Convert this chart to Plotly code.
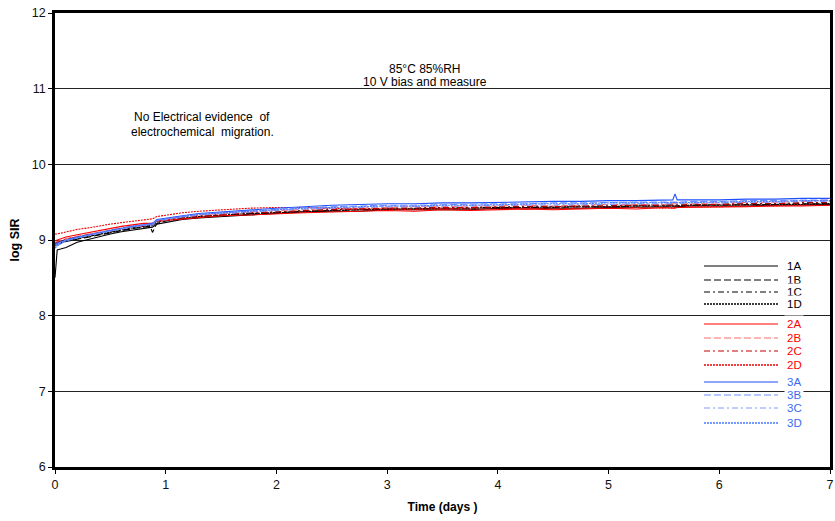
import plotly.graph_objects as go

# ---------------- data ----------------
time_days = [0, 0.02, 0.05, 0.1, 0.2, 0.3, 0.4, 0.5, 0.6, 0.7, 0.8, 0.86, 0.88, 0.92, 1.0,
             1.15, 1.3, 1.5, 1.75, 2.0, 2.25, 2.5, 2.75, 3.0, 3.25, 3.5, 3.75, 4.0, 4.25, 4.5,
             4.75, 5.0, 5.25, 5.5, 5.58, 5.6, 5.62, 5.75, 6.0, 6.25, 6.5, 6.75, 7.0]

s1A = [8.50, 8.87, 8.88, 8.90, 8.97, 9.01, 9.05, 9.08, 9.11, 9.13, 9.15, 9.16, 9.17, 9.21, 9.23,
       9.27, 9.29, 9.31, 9.33, 9.35, 9.37, 9.38, 9.38, 9.40, 9.40, 9.41, 9.40, 9.42, 9.41, 9.42,
       9.42, 9.43, 9.43, 9.44, 9.43, 9.44, 9.44, 9.45, 9.45, 9.45, 9.46, 9.46, 9.47]
s1B = [8.93, 8.94, 8.96, 8.98, 9.01, 9.04, 9.07, 9.10, 9.13, 9.15, 9.17, 9.18, 9.10, 9.22, 9.25,
       9.28, 9.30, 9.32, 9.34, 9.36, 9.38, 9.39, 9.40, 9.41, 9.41, 9.42, 9.42, 9.43, 9.43, 9.43,
       9.44, 9.44, 9.45, 9.45, 9.45, 9.45, 9.45, 9.46, 9.46, 9.47, 9.47, 9.48, 9.48]
s1C = [8.94, 8.95, 8.97, 8.99, 9.02, 9.05, 9.08, 9.11, 9.14, 9.16, 9.18, 9.19, 9.19, 9.24, 9.26,
       9.29, 9.31, 9.33, 9.35, 9.37, 9.39, 9.40, 9.41, 9.42, 9.42, 9.43, 9.43, 9.44, 9.44, 9.44,
       9.45, 9.45, 9.46, 9.46, 9.46, 9.46, 9.46, 9.47, 9.47, 9.48, 9.48, 9.49, 9.49]
s1D = [8.92, 8.94, 8.96, 8.99, 9.02, 9.05, 9.08, 9.11, 9.14, 9.16, 9.18, 9.19, 9.20, 9.24, 9.26,
       9.29, 9.31, 9.33, 9.35, 9.36, 9.38, 9.39, 9.40, 9.41, 9.41, 9.42, 9.42, 9.43, 9.43, 9.44,
       9.44, 9.44, 9.45, 9.45, 9.45, 9.45, 9.45, 9.46, 9.46, 9.46, 9.47, 9.47, 9.48]
s2A = [8.99, 9.00, 9.02, 9.04, 9.07, 9.10, 9.13, 9.15, 9.18, 9.20, 9.22, 9.22, 9.22, 9.25, 9.26,
       9.28, 9.30, 9.32, 9.33, 9.35, 9.36, 9.37, 9.38, 9.39, 9.38, 9.40, 9.39, 9.40, 9.41, 9.40,
       9.41, 9.42, 9.41, 9.43, 9.42, 9.42, 9.43, 9.43, 9.44, 9.44, 9.45, 9.45, 9.46]
s2B = [8.97, 8.98, 9.00, 9.02, 9.05, 9.08, 9.11, 9.14, 9.16, 9.18, 9.20, 9.21, 9.21, 9.26, 9.28,
       9.31, 9.33, 9.35, 9.37, 9.39, 9.40, 9.42, 9.42, 9.43, 9.44, 9.44, 9.45, 9.45, 9.46, 9.45,
       9.46, 9.47, 9.47, 9.47, 9.48, 9.48, 9.48, 9.48, 9.49, 9.49, 9.50, 9.51, 9.53]
s2C = [8.96, 8.97, 8.99, 9.01, 9.04, 9.07, 9.10, 9.13, 9.15, 9.17, 9.19, 9.20, 9.20, 9.25, 9.27,
       9.30, 9.32, 9.34, 9.36, 9.37, 9.39, 9.40, 9.41, 9.42, 9.42, 9.43, 9.43, 9.44, 9.44, 9.44,
       9.45, 9.45, 9.46, 9.46, 9.46, 9.46, 9.46, 9.47, 9.47, 9.48, 9.48, 9.49, 9.50]
s2D = [9.08, 9.08, 9.09, 9.11, 9.14, 9.16, 9.19, 9.21, 9.23, 9.25, 9.27, 9.28, 9.28, 9.31, 9.33,
       9.36, 9.38, 9.40, 9.42, 9.43, 9.43, 9.42, 9.41, 9.41, 9.40, 9.42, 9.41, 9.41, 9.42, 9.41,
       9.42, 9.42, 9.43, 9.42, 9.43, 9.43, 9.43, 9.44, 9.44, 9.45, 9.45, 9.46, 9.46]
s3A = [8.95, 8.96, 8.98, 9.00, 9.04, 9.07, 9.10, 9.13, 9.16, 9.18, 9.20, 9.21, 9.22, 9.27, 9.29,
       9.32, 9.35, 9.37, 9.40, 9.42, 9.44, 9.46, 9.47, 9.48, 9.48, 9.49, 9.49, 9.50, 9.50, 9.51,
       9.51, 9.52, 9.52, 9.52, 9.53, 9.61, 9.53, 9.53, 9.53, 9.54, 9.54, 9.55, 9.55]
s3B = [8.93, 8.95, 8.97, 9.00, 9.03, 9.07, 9.10, 9.13, 9.15, 9.18, 9.20, 9.21, 9.21, 9.26, 9.28,
       9.31, 9.34, 9.36, 9.39, 9.41, 9.43, 9.44, 9.45, 9.46, 9.46, 9.47, 9.47, 9.48, 9.48, 9.49,
       9.49, 9.50, 9.50, 9.50, 9.50, 9.50, 9.50, 9.51, 9.51, 9.52, 9.52, 9.53, 9.53]
s3C = [8.91, 8.93, 8.96, 8.99, 9.03, 9.06, 9.09, 9.12, 9.15, 9.17, 9.19, 9.20, 9.20, 9.25, 9.27,
       9.30, 9.33, 9.35, 9.37, 9.39, 9.41, 9.42, 9.43, 9.44, 9.44, 9.45, 9.45, 9.46, 9.46, 9.46,
       9.47, 9.47, 9.48, 9.48, 9.48, 9.48, 9.48, 9.49, 9.49, 9.50, 9.50, 9.51, 9.51]
s3D = [8.89, 8.92, 8.95, 8.99, 9.03, 9.07, 9.10, 9.13, 9.16, 9.18, 9.20, 9.21, 9.21, 9.26, 9.28,
       9.31, 9.34, 9.36, 9.38, 9.40, 9.42, 9.43, 9.44, 9.45, 9.45, 9.46, 9.46, 9.47, 9.47, 9.48,
       9.48, 9.49, 9.49, 9.49, 9.49, 9.49, 9.49, 9.50, 9.50, 9.51, 9.51, 9.52, 9.52]

series_names = ["1A", "1B", "1C", "1D", "2A", "2B", "2C", "2D", "3A", "3B", "3C", "3D"]
series_values = [s1A, s1B, s1C, s1D, s2A, s2B, s2C, s2D, s3A, s3B, s3C, s3D]

x_ticks = [0, 1, 2, 3, 4, 5, 6, 7]
y_ticks = [6, 7, 8, 9, 10, 11, 12]

# ---------------- styles ----------------
line_colors = ["#000000", "#000000", "#000000", "#000000",
               "#ff0000", "#ff6a6a", "#c00000", "#ee0000",
               "#1f4fff", "#6b8fff", "#7f9cff", "#4a78ff"]
text_colors = ["#000000"] * 4 + ["#ff0000"] * 4 + ["#3a6cf0"] * 4
dashes = ["solid", "7px,3px", "6px,3px,2px,3px", "2px,1px"] * 3
leg_widths = [1.2, 1.0, 1.0, 1.6] * 3

FONT = "Arial, Liberation Sans, sans-serif"
W, H = 835, 521
ML, MR, MT, MB = 55, 5, 13, 54
PW, PH = W - ML - MR, H - MT - MB

fig = go.Figure()
for name, vals, col, dsh in zip(series_names, series_values, line_colors, dashes):
    fig.add_trace(go.Scatter(x=time_days, y=vals, mode="lines", name=name,
                             line=dict(color=col, width=1.1, dash=dsh),
                             showlegend=False, hoverinfo="x+y+name"))

# ---------------- hand-built legend (compact, like the original) ----------------
leg_px_y = [266, 280, 292, 304, 324, 338, 351, 365, 382, 395, 408, 423]
lx0, lx1, ltx = 704, 778, 784
shapes = []
annotations = []
for name, py, col, tcol, dsh, lw in zip(series_names, leg_px_y, line_colors,
                                         text_colors, dashes, leg_widths):
    yp = (H - MB - py) / PH
    shapes.append(dict(type="line", xref="paper", yref="paper",
                       x0=(lx0 - ML) / PW, x1=(lx1 - ML) / PW, y0=yp, y1=yp,
                       line=dict(color=col, width=lw, dash=dsh)))
    annotations.append(dict(xref="paper", yref="paper", x=(ltx - ML) / PW, y=yp,
                            xanchor="left", yanchor="middle", text=name, showarrow=False,
                            bgcolor="white", borderpad=2,
                            font=dict(family=FONT, size=11.5, color=tcol)))

note_font = dict(family=FONT, size=12, color="#000")
annotations += [
    dict(xref="x", yref="y", x=3.34, y=11.26, showarrow=False, text="85°C 85%RH", font=note_font),
    dict(xref="x", yref="y", x=3.34, y=11.09, showarrow=False, text="10 V bias and measure",
         font=note_font),
    dict(xref="x", yref="y", x=1.33, y=10.63, showarrow=False,
         text="No Electrical evidence&nbsp; of", font=note_font),
    dict(xref="x", yref="y", x=1.33, y=10.43, showarrow=False,
         text="electrochemical&nbsp; migration.", font=note_font),
]

axis_common = dict(showline=True, linecolor="#000", linewidth=2.5, mirror=True,
                   zeroline=False, ticks="outside", ticklen=4, tickcolor="#000", tickwidth=1,
                   tickfont=dict(family=FONT, size=12.5, color="#111"))

fig.update_layout(
    width=W, height=H,
    margin=dict(l=ML, r=MR, t=MT, b=MB, autoexpand=False),
    paper_bgcolor="white", plot_bgcolor="white",
    font=dict(family=FONT, size=12, color="#000"),
    shapes=shapes, annotations=annotations,
    xaxis=dict(range=[0, 7], tickvals=x_ticks, showgrid=False, ticklabeloverflow="allow",
               title=dict(text="<b>Time (days )</b>", standoff=12,
                          font=dict(family=FONT, size=12, color="#000")),
               **axis_common),
    yaxis=dict(range=[6, 12], tickvals=y_ticks,
               showgrid=True, gridcolor="#222", gridwidth=1,
               title=dict(text="<b>log SIR</b>", standoff=10,
                          font=dict(family=FONT, size=12.5, color="#000")),
               **axis_common),
)

fig.write_html("out.html")
